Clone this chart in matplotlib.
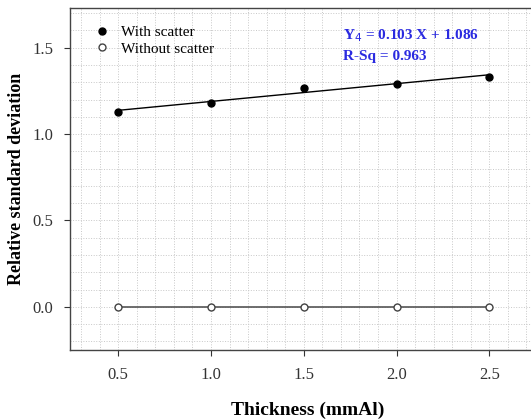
import numpy as np
import matplotlib
matplotlib.use("Agg")
import matplotlib.pyplot as plt
from matplotlib.ticker import MultipleLocator

# Data
thickness = [0.5, 1.0, 1.5, 2.0, 2.5]
rsd_with = [1.125, 1.18, 1.265, 1.29, 1.33]
rsd_without = [0.0, 0.0, 0.0, 0.0, 0.0]
slope, intercept = 0.103, 1.086
r_sq = 0.963

plt.rcParams['font.family'] = ['Liberation Serif', 'DejaVu Serif']

fig = plt.figure(figsize=(5.31, 4.19), dpi=100)
ax = fig.add_axes([70 / 531, 1 - 350 / 419, 475 / 531, (350 - 8) / 419])

ax.set_xlim(0.24, 2.80)
ax.set_ylim(-0.25, 1.73)

# grid
ax.xaxis.set_minor_locator(MultipleLocator(0.1))
ax.yaxis.set_minor_locator(MultipleLocator(0.1))
ax.grid(which='both', color='#c8c8c8', linestyle=':', linewidth=0.7)
ax.set_axisbelow(True)

# fitted line
xs = np.array([thickness[0], thickness[-1]])
ax.plot(xs, slope * xs + intercept, color='black', linewidth=1.0, zorder=2)
ax.plot(thickness, rsd_with, 'o', color='black', markersize=5, zorder=3,
        label='With scatter')

ax.plot(thickness, rsd_without, '-', color='#555555', linewidth=1.2, zorder=2)
ax.plot(thickness, rsd_without, 'o', markerfacecolor='white', markeredgecolor='#444444',
        markeredgewidth=1.0, markersize=5, zorder=3, label='Without scatter')

ax.set_xticks(thickness)
ax.set_yticks([0.0, 0.5, 1.0, 1.5])
ax.xaxis.set_major_formatter(matplotlib.ticker.FormatStrFormatter('%.1f'))
ax.yaxis.set_major_formatter(matplotlib.ticker.FormatStrFormatter('%.1f'))
ax.tick_params(which='major', direction='out', length=4, width=0.8, labelsize=12,
               colors='#333333', labelcolor='#333333', pad=8)
ax.tick_params(which='minor', length=0)

ax.set_xlabel('Thickness (mmAl)', fontsize=14, fontweight='bold', labelpad=14)
ax.set_ylabel('Relative standard deviation', fontsize=13, fontweight='bold', labelpad=5)

for s in ['left', 'bottom', 'top']:
    ax.spines[s].set_color('#444444')
    ax.spines[s].set_linewidth(1.0)
ax.spines['right'].set_visible(False)

ax.legend(loc='upper left', bbox_to_anchor=(0.02, 0.99), frameon=False, fontsize=11,
          handletextpad=0.6, labelspacing=0.2, handlelength=1.2)

ax.text(1.71, 1.57, 'Y$_4$ = %.3f X + %.3f' % (slope, intercept), color='#2a2ae0',
        fontsize=11, fontweight='bold', ha='left', va='center')
ax.text(1.71, 1.45, 'R-Sq = %.3f' % r_sq, color='#2a2ae0', fontsize=11,
        fontweight='bold', ha='left', va='center')

fig.savefig('out.png', dpi=100)
